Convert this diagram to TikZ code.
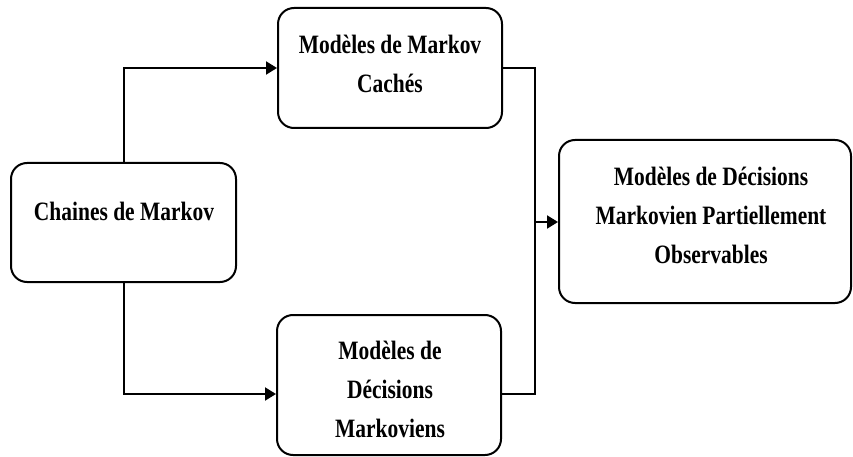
\documentclass[tikz,border=0pt]{standalone}
\usepackage{fontspec}
\setmainfont{Liberation Serif}[FakeStretch=0.81]
\usetikzlibrary{arrows.meta}

\tikzset{
  box/.style={draw=black, line width=2pt, rounded corners=16pt, fill=white,
    inner sep=0pt},
  label text/.style={align=center, font=\fontsize{26.5}{39}\selectfont\bfseries,
    inner sep=0pt, text=black},
  link/.style={draw=black, line width=2pt},
  linkarrow/.style={link, -{Triangle[length=11pt,width=13pt]}}
}

\begin{document}
\begin{tikzpicture}[x=1pt, y=-1pt]
  \useasboundingbox (0,0) rectangle (853,457);

  % boxes
  \node[box, minimum width=225pt, minimum height=119pt] (chain) at (123.5,222.5) {};
  \node[box, minimum width=224pt, minimum height=120pt] (hmm)   at (390,68) {};
  \node[box, minimum width=224pt, minimum height=140pt] (mdp)   at (389,385) {};
  \node[box, minimum width=292pt, minimum height=163pt] (pomdp) at (705,221.5) {};

  % box captions
  \node[label text] (chaintxt) at (124,211) {Chaines de Markov};
  \node[label text] (hmmtxt)   at (390,64) {Modèles de Markov\\Cachés};
  \node[label text] (mdptxt)   at (390,389) {Modèles de\\Décisions\\Markoviens};
  \node[label text] (pomdptxt) at (711,215) {Modèles de Décisions\\Markovien Partiellement\\Observables};

  % branching from the Markov chains box
  \draw[linkarrow] (chain.north) |- (hmm.west);
  \coordinate (mdpin) at ([yshift=-9pt]mdp.west);
  \draw[linkarrow] (chain.south) |- (mdpin);

  % merging into the POMDP box
  \coordinate (mdpout) at ([yshift=-9pt]mdp.east);
  \coordinate (bus) at (535,222);
  \draw[link] (hmm.east) -| (bus |- mdpout) -- (mdpout);
  \draw[linkarrow] (bus) -- (pomdp.west |- bus);
\end{tikzpicture}
\end{document}
